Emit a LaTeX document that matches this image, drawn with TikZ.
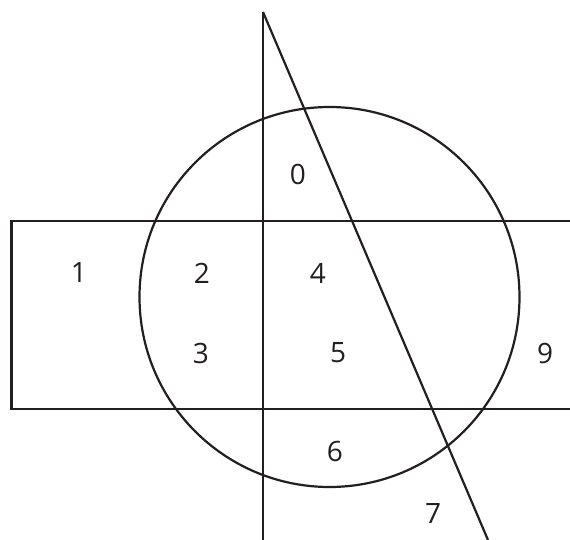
\documentclass[tikz,border=0pt]{standalone}
\usepackage{fontspec}
\setmainfont{Open Sans}
\definecolor{ink}{HTML}{231F20}
\begin{document}
\begin{tikzpicture}[x=1pt,y=-1pt,
  line/.style={draw=ink,line width=2.2pt},
  lab/.style={text=ink,font=\fontsize{28}{30}\selectfont,inner sep=0pt}]
\useasboundingbox (0,0) rectangle (570,540);
% rectangle open at right
\coordinate (rtr) at (570,221);
\coordinate (rtl) at (11.5,221);
\coordinate (rbl) at (11.5,409);
\coordinate (rbr) at (570,409);
\draw[line] (rtr) -- (rtl) -- (rbl) -- (rbr);
% vertical line
\coordinate (vt) at (263,12);
\coordinate (vb) at (263,540);
\draw[line] (vt) -- (vb);
% diagonal
\coordinate (db) at (488,540);
\draw[line] (vt) -- (db);
% circle
\coordinate (c) at (329.5,297);
\draw[line] (c) circle[radius=190];
% labels
\node[lab] (n0) at (298,174) {0};
\node[lab] (n1) at (79,273) {1};
\node[lab] (n2) at (202,273) {2};
\node[lab] (n4) at (318,273) {4};
\node[lab] (n3) at (201,353) {3};
\node[lab] (n5) at (338,353) {5};
\node[lab] (n9) at (545,353) {9};
\node[lab] (n6) at (335,451) {6};
\node[lab] (n7) at (433,514) {7};
\end{tikzpicture}
\end{document}
